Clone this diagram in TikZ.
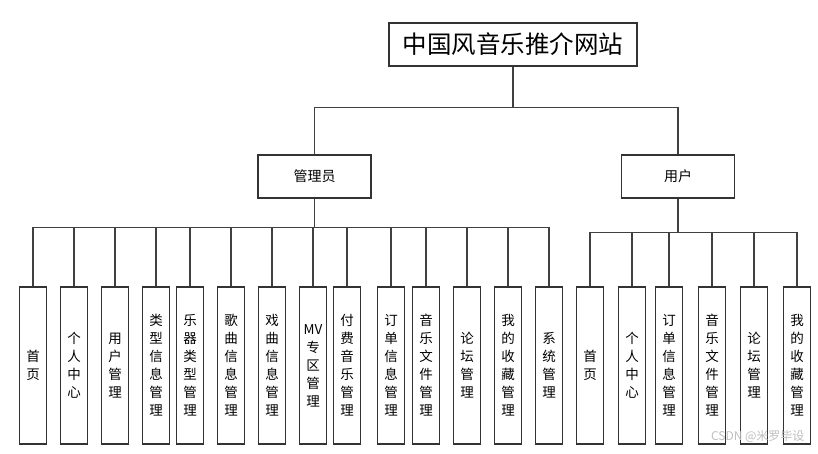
\documentclass[tikz,border=0pt]{standalone}
\usepackage{fontspec}
\setmainfont{Noto Sans CJK SC}
\usetikzlibrary{calc}
\tikzset{
  box/.style={draw=black!80, line width=1.1pt, fill=white, inner sep=0pt},
  rolebox/.style={box, minimum width=113pt, minimum height=43pt, font=\fontsize{14}{14}\selectfont},
  leaf/.style={box, minimum width=27pt, minimum height=157pt, align=center, font=\fontsize{13.5}{18}\selectfont},
  link/.style={draw=black!75, line width=1.1pt},
}
\begin{document}
\begin{tikzpicture}[x=1pt,y=-1pt]
%set bounding box
\useasboundingbox (0,0) rectangle (818,454);
%top level
\node[box, minimum width=248pt, minimum height=43pt, font=\fontsize{24.5}{24.5}\selectfont] (site) at (513,44.5) {中国风音乐推介网站};
\node[rolebox] (admin) at (314.5,176.5) {管理员};
\node[rolebox] (user) at (678,176.5) {用户};
\coordinate (topbus) at ($(site.south)+(0,41)$);
\draw[link] (site.south) -- (topbus);
\draw[link] (admin.north) |- (topbus) -| (user.north);
%admin leaves
\coordinate (abus) at ($(admin.south)+(0,29)$);
\draw[link] (admin.south) -- (abus);
\foreach \x/\txt [count=\i] in {
	33/{首\\页}, 74/{个\\人\\中\\心}, 115/{用\\户\\管\\理},
	156/{类\\型\\信\\息\\管\\理}, 190/{乐\\器\\类\\型\\管\\理},
	231/{歌\\曲\\信\\息\\管\\理}, 272/{戏\\曲\\信\\息\\管\\理},
	313/{MV\\专\\区\\管\\理}, 347/{付\\费\\音\\乐\\管\\理},
	391/{订\\单\\信\\息\\管\\理}, 426/{音\\乐\\文\\件\\管\\理},
	467/{论\\坛\\管\\理}, 508/{我\\的\\收\\藏\\管\\理},
	549/{系\\统\\管\\理}}
{
	\node[leaf] (a\i) at (\x,365.5) {\txt};
	\draw[link] (a\i.north) |- (abus);
}
%user leaves
\coordinate (ubus) at ($(user.south)+(0,34)$);
\draw[link] (user.south) -- (ubus);
\foreach \x/\txt [count=\i] in {
	590/{首\\页}, 632/{个\\人\\中\\心}, 669/{订\\单\\信\\息\\管\\理},
	712/{音\\乐\\文\\件\\管\\理}, 754/{论\\坛\\管\\理},
	797/{我\\的\\收\\藏\\管\\理}}
{
	\node[leaf] (u\i) at (\x,365.5) {\txt};
	\draw[link] (u\i.north) |- (ubus);
}
%watermark
\node[anchor=east, text=black!25, font=\fontsize{12}{12}\selectfont] (mark) at (808,437) {CSDN @米罗毕设};
\end{tikzpicture}
\end{document}
